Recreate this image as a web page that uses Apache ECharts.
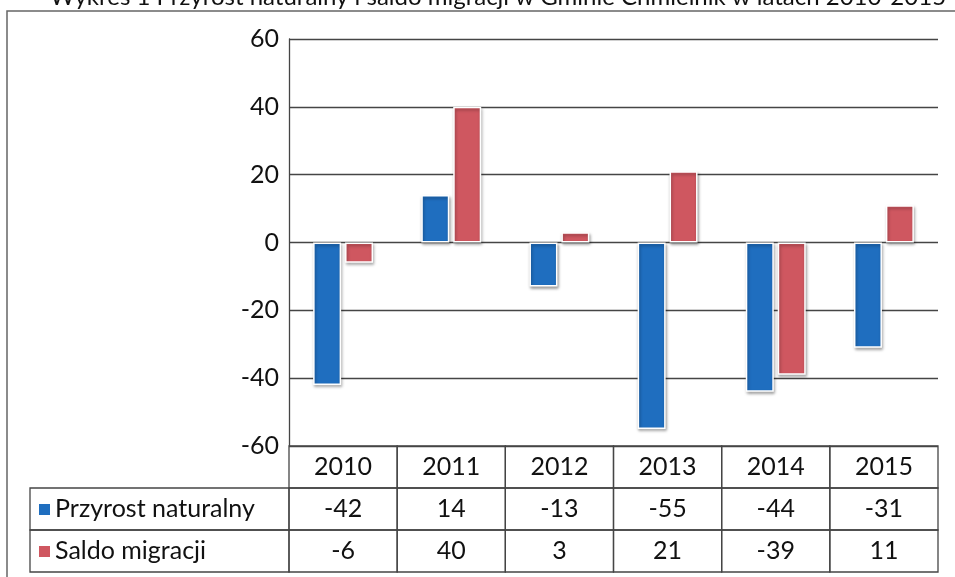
<!DOCTYPE html>
<html>
<head>
<meta charset="utf-8">
<script src="https://cdn.jsdelivr.net/npm/echarts@6/dist/echarts.min.js"></script>
<style>
  html, body { margin: 0; padding: 0; background: #fff; }
  #main { width: 955px; height: 577px; }
</style>
</head>
<body>
<div id="main"></div>
<script>
const years = ['2010', '2011', '2012', '2013', '2014', '2015'];
const przyrost = [-42, 14, -13, -55, -44, -31];
const saldo = [-6, 40, 3, 21, -39, 11];
const seriesNames = ['Przyrost naturalny', 'Saldo migracji'];
const colors = ['#1f6ebf', '#cf5760'];
const yTicks = { min: -60, max: 60, interval: 20 };

const FONT = 'Lato, "Open Sans", sans-serif';
const LINE = '#454545';
const legendLeft = 30;

// table cells: [col, row] ; row 0 = years, 1 = przyrost, 2 = saldo
const cells = [];
years.forEach(function (y, i) {
    cells.push({ value: [i, 0], text: y });
    cells.push({ value: [i, 1], text: String(przyrost[i]) });
    cells.push({ value: [i, 2], text: String(saldo[i]) });
});
// legend cells in front of row 1 and 2
seriesNames.forEach(function (n, k) {
    cells.push({ value: [0, k + 1], text: n, legend: k });
});

const chart = echarts.init(document.getElementById('main'));

const barStyle = function (c) {
    return {
        color: c,
        borderColor: '#fff',
        borderWidth: 1.5,
        shadowColor: 'rgba(0,0,0,0.35)',
        shadowBlur: 3,
        shadowOffsetX: 1,
        shadowOffsetY: 2
    };
};

const option = {
    backgroundColor: '#fff',
    animation: false,
    graphic: [
        {
            type: 'rect',
            z: -1,
            shape: { x: 7, y: 11, width: 1000, height: 700 },
            style: { fill: 'none', stroke: '#666', lineWidth: 1.5 }
        },
        {
            type: 'text',
            x: 50,
            y: -15,
            style: {
                text: 'Wykres 1 Przyrost naturalny i saldo migracji w Gminie Chmielnik w latach 2010-2015',
                fontSize: 24,
                fontFamily: FONT,
                fill: '#111'
            }
        }
    ],
    grid: [
        { left: 289, top: 39, width: 649, height: 407 },
        { left: 289, top: 446, width: 649, height: 126 }
    ],
    xAxis: [
        {
            type: 'category',
            gridIndex: 0,
            data: years,
            axisLine: { show: false },
            axisTick: { show: false },
            axisLabel: { show: false }
        },
        {
            type: 'category',
            gridIndex: 1,
            data: years,
            show: false
        }
    ],
    yAxis: [
        {
            type: 'value',
            gridIndex: 0,
            min: yTicks.min,
            max: yTicks.max,
            interval: yTicks.interval,
            axisLine: { show: true, lineStyle: { color: LINE, width: 1.3 } },
            axisTick: { show: false },
            axisLabel: { fontSize: 25, fontFamily: FONT, color: '#111', margin: 10 },
            splitLine: { lineStyle: { color: LINE, width: 1.3 } }
        },
        {
            type: 'category',
            gridIndex: 1,
            data: ['0', '1', '2'],
            inverse: true,
            show: false
        }
    ],
    series: [
        {
            name: seriesNames[0],
            type: 'bar',
            data: przyrost,
            barWidth: 28,
            barGap: '14%',
            itemStyle: barStyle(colors[0])
        },
        {
            name: seriesNames[1],
            type: 'bar',
            data: saldo,
            barWidth: 28,
            itemStyle: barStyle(colors[1])
        },
        {
            type: 'custom',
            xAxisIndex: 1,
            yAxisIndex: 1,
            silent: true,
            clip: false,
            data: cells.map(function (c) { return c.value; }),
            renderItem: function (params, api) {
                const cell = cells[params.dataIndex];
                const p = api.coord([api.value(0), api.value(1)]);
                const s = api.size([1, 1]);
                const top = p[1] - s[1] / 2;
                if (cell.legend !== undefined) {
                    const right = p[0] - s[0] / 2;
                    return {
                        type: 'group',
                        children: [
                            {
                                type: 'rect',
                                shape: { x: legendLeft, y: top, width: right - legendLeft, height: s[1] },
                                style: { fill: 'none', stroke: LINE, lineWidth: 1.3 }
                            },
                            {
                                type: 'rect',
                                shape: { x: legendLeft + 9, y: p[1] - 5, width: 11, height: 11 },
                                style: { fill: colors[cell.legend] }
                            },
                            {
                                type: 'text',
                                style: {
                                    text: cell.text,
                                    x: legendLeft + 25,
                                    y: p[1],
                                    align: 'left',
                                    verticalAlign: 'middle',
                                    fontSize: 25,
                                    fontFamily: FONT,
                                    fill: '#111'
                                }
                            }
                        ]
                    };
                }
                return {
                    type: 'group',
                    children: [
                        {
                            type: 'rect',
                            shape: { x: p[0] - s[0] / 2, y: top, width: s[0], height: s[1] },
                            style: { fill: 'none', stroke: LINE, lineWidth: 1.3 }
                        },
                        {
                            type: 'text',
                            style: {
                                text: cell.text,
                                x: p[0],
                                y: p[1],
                                align: 'center',
                                verticalAlign: 'middle',
                                fontSize: 25,
                                fontFamily: FONT,
                                fill: '#111'
                            }
                        }
                    ]
                };
            }
        }
    ]
};

chart.setOption(option);
</script>
</body>
</html>
